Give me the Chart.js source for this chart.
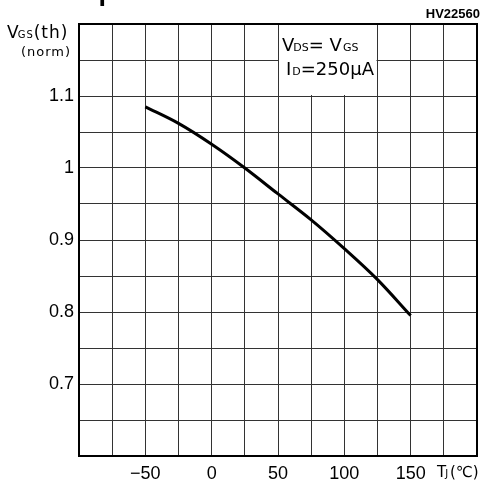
<!DOCTYPE html>
<html>
<head>
<meta charset="utf-8">
<script src="https://cdn.jsdelivr.net/npm/chart.js@4/dist/chart.umd.min.js"></script>
<style>
html,body{margin:0;padding:0;background:#fff;}
#wrap{width:485px;height:486px;position:relative;}
</style>
</head>
<body>
<div id="wrap"><canvas id="c" width="485" height="486"></canvas></div>
<script>
// Data
const tempC = [-50, -25, 0, 25, 50, 75, 100, 125, 150];
const vgsNorm = [1.085, 1.062, 1.033, 1.0, 0.964, 0.928, 0.888, 0.845, 0.795];
const xTickLabels = [-50, 0, 50, 100, 150];
const yTickLabels = [0.7, 0.8, 0.9, 1, 1.1];
const chartCode = 'HV22560';
const titleText = 'Temperature';

const points = tempC.map((t, i) => ({x: t, y: vgsNorm[i]}));
const FONT = 'Liberation Sans, Arial, sans-serif';
const SFONT = '"DejaVu Sans", sans-serif';

function seg(ctx, parts, px, py) {
  for (const [txt, size, dx] of parts) {
    ctx.font = size + 'px ' + SFONT;
    ctx.fillText(txt, px, py);
    px += ctx.measureText(txt).width + (dx || 0);
  }
  return px;
}

const overlay = {
  id: 'overlay',
  beforeDatasetsDraw(chart) {
    const {ctx, scales: {x, y}} = chart;
    const x0 = x.getPixelForValue(50), x1 = x.getPixelForValue(125);
    const y0 = y.getPixelForValue(1.2), y1 = y.getPixelForValue(1.1);
    ctx.save();
    ctx.fillStyle = '#fff';
    ctx.fillRect(x0 + 1, y0, x1 - x0 - 2, y1 - y0 - 1);
    ctx.fillStyle = '#000';
    ctx.textBaseline = 'alphabetic';
    ctx.textAlign = 'left';
    seg(ctx, [['V', 18, -1], ['DS', 11, 0], ['= V', 18, 1], ['GS', 11, 0]], x0 + 4, y0 + 27);
    seg(ctx, [['I', 18, 1], ['D', 11, 0], ['=250μA', 18, 0]], x0 + 8, y0 + 51);
    ctx.restore();
  },
  afterDraw(chart) {
    const {ctx, chartArea: a} = chart;
    ctx.save();
    ctx.strokeStyle = '#000';
    ctx.lineWidth = 2;
    ctx.strokeRect(a.left, a.top, a.right - a.left, a.bottom - a.top);
    ctx.fillStyle = '#000';
    ctx.font = 'bold 13px ' + FONT;
    ctx.textAlign = 'right';
    ctx.textBaseline = 'alphabetic';
    ctx.fillText(chartCode, 480, 18);
    ctx.font = 'bold 27px ' + FONT;
    ctx.textAlign = 'left';
    ctx.fillText(titleText, 45, 0);
    // y-axis title
    ctx.letterSpacing = '1px';
    seg(ctx, [['V', 17, -2], ['GS', 10, 0], ['(th)', 17, 0]], 7, 38);
    ctx.letterSpacing = '1px';
    ctx.font = '13px ' + SFONT;
    ctx.textAlign = 'right';
    ctx.fillText('(norm)', 71, 56);
    // x-axis title
    ctx.textAlign = 'left';
    ctx.letterSpacing = '0px';
    seg(ctx, [['T', 15, -1], ['J', 10, 2], ['(℃)', 15, 0]], 437, 477);
    ctx.restore();
  }
};

new Chart(document.getElementById('c'), {
  type: 'line',
  data: {
    datasets: [{
      data: points,
      borderColor: '#000',
      borderWidth: 3,
      pointRadius: 0,
      fill: false,
      cubicInterpolationMode: 'monotone'
    }]
  },
  options: {
    responsive: false,
    animation: false,
    devicePixelRatio: 1,
    layout: {padding: {left: 0, right: 8, top: 24, bottom: 0}},
    plugins: {legend: {display: false}, tooltip: {enabled: false}, title: {display: false}},
    scales: {
      x: {
        type: 'linear', min: -100, max: 200,
        afterFit(s) { s.height = 30; },
        border: {display: false},
        grid: {color: '#333', lineWidth: 1, drawTicks: false},
        ticks: {
          stepSize: 25, autoSkip: false, maxRotation: 0, padding: 7,
          color: '#000', font: {family: FONT, size: 18},
          callback(v) { return xTickLabels.includes(v) ? (v < 0 ? '−' + Math.abs(v) : String(v)) : ''; }
        }
      },
      y: {
        type: 'linear', min: 0.6, max: 1.2,
        afterFit(s) { s.width = 79; },
        border: {display: false},
        grid: {color: '#333', lineWidth: 1, drawTicks: false},
        ticks: {
          stepSize: 0.05, autoSkip: false, padding: 5,
          color: '#000', font: {family: FONT, size: 18},
          callback(v) {
            const r = Math.round(v * 100) / 100;
            return yTickLabels.some(t => Math.abs(t - r) < 1e-6) ? String(r) : '';
          }
        }
      }
    }
  },
  plugins: [overlay]
});
</script>
</body>
</html>
